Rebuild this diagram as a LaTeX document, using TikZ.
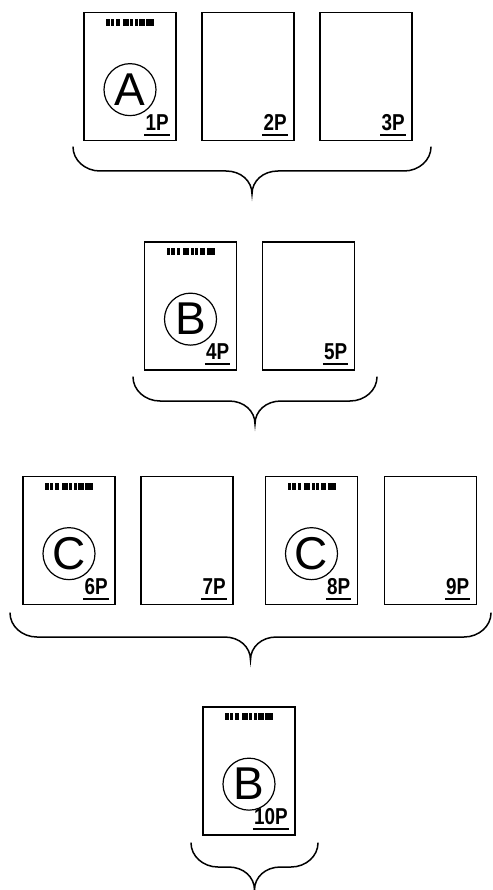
\documentclass[tikz,border=0pt]{standalone}
\usepackage{fontspec}
\setmainfont{Liberation Sans}
\newfontfamily\pgfont{Liberation Sans}[FakeStretch=0.82]
\usetikzlibrary{positioning, calc}
\tikzset{
	sheet/.style ={rectangle, draw=black, line width=1.7pt, minimum width=92pt, minimum height=128pt, inner sep=0pt},
	pgnum/.style ={inner sep=0pt, font=\pgfont\bfseries\fontsize{23}{23}\selectfont},
	stamp/.style ={circle, draw=black, line width=1.2pt, minimum size=52pt, inner sep=0pt, font=\fontsize{46}{46}\selectfont},
	curly/.style ={line width=1.5pt, line cap=round},
}
% one page: name, centre, page number
\newcommand{\sheet}[3]{%
	\node[sheet] (#1) at (#2) {};
	\node[pgnum, anchor=base east] (#1n) at ($(#1.south east)+(-8,-11)$) {#3};
	\draw[line width=2pt] ($(#1n.base west)+(-1,4.5)$) -- ($(#1n.base east)+(1,4.5)$);
}
% first page of a document: bar code and circled letter
\newcommand{\headsheet}[2]{%
	\foreach \s/\w in {0/3.6,4.6/3.8,10.4/3.4,16.6/6.2,24/3.4,28.6/3,33/5.6,40.2/7.8}
		\fill ($(#1.north)+(\s-24,7)$) rectangle ++(\w,7);
	\node[stamp] (#1s) at ($(#1.north)+(0,78)$) {#2};
}
% brace under a group: left x, right x, top y
\newcommand{\grpbrace}[3]{%
	\draw[curly] (#1,#3) .. controls (#1,#3+13) and (#1+12,#3+24) .. (#1+27,#3+24)
		-- ({(#1+#2)/2-26},#3+24) .. controls ({(#1+#2)/2-11},#3+24) and ({(#1+#2)/2},#3+34) .. ({(#1+#2)/2},#3+47)
		.. controls ({(#1+#2)/2},#3+34) and ({(#1+#2)/2+11},#3+24) .. ({(#1+#2)/2+26},#3+24)
		-- (#2-27,#3+24) .. controls (#2-12,#3+24) and (#2,#3+13) .. (#2,#3);
}

\begin{document}
\begin{tikzpicture}[x=1pt, y=-1pt]
	\useasboundingbox (0,0) rectangle (492,890);
	% first document
	\sheet{p1}{130,76.5}{1P}
	\sheet{p2}{248,76.5}{2P}
	\sheet{p3}{366,76.5}{3P}
	\headsheet{p1}{A}
	\grpbrace{73}{431}{147}
	% second document
	\sheet{p4}{190.5,306}{4P}
	\sheet{p5}{308.5,306}{5P}
	\headsheet{p4}{B}
	\grpbrace{133}{377}{377}
	% third document
	\sheet{p6}{69,540.5}{6P}
	\sheet{p7}{187,540.5}{7P}
	\sheet{p8}{311.5,540.5}{8P}
	\sheet{p9}{430.5,540.5}{9P}
	\headsheet{p6}{C}
	\headsheet{p8}{C}
	\grpbrace{10}{491}{613}
	% fourth document
	\sheet{p10}{249,771}{10P}
	\headsheet{p10}{B}
	\grpbrace{191}{318}{843}
\end{tikzpicture}
\end{document}
